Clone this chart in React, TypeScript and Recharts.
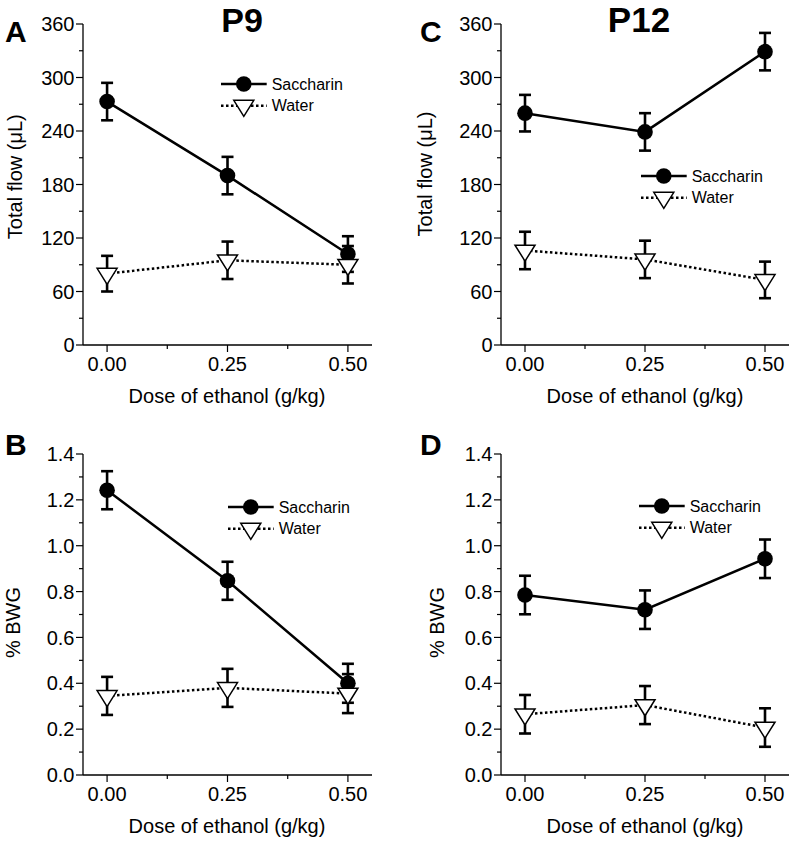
import React from 'react';
import { LineChart, Line, XAxis, YAxis, ErrorBar, Legend } from 'recharts';

const FONT = '"Liberation Sans", Arial, Helvetica, sans-serif';

// x axis: dose of ethanol (g/kg)
const doses = [0, 0.25, 0.5];
const doseTicks = [0, 0.25, 0.5];
const doseMinorTicks = [0.125, 0.375];

// y axis ticks
const flowTicks = [0, 60, 120, 180, 240, 300, 360];
const flowMinorTicks = [30, 90, 150, 210, 270, 330];
const bwgTicks = [0, 0.2, 0.4, 0.6, 0.8, 1.0, 1.2, 1.4];
const bwgMinorTicks = [0.1, 0.3, 0.5, 0.7, 0.9, 1.1, 1.3];

const seriesNames = ['Saccharin', 'Water'];

// A: P9 total flow (uL)
const p9FlowSaccharin = [273, 190, 102];
const p9FlowSaccharinErr = [21, 21, 20];
const p9FlowWater = [80, 95, 90];
const p9FlowWaterErr = [20, 21, 21];

// C: P12 total flow (uL)
const p12FlowSaccharin = [260, 239, 329];
const p12FlowSaccharinErr = [20.5, 21, 21];
const p12FlowWater = [106, 96, 73];
const p12FlowWaterErr = [21, 21, 20.5];

// B: P9 % BWG
const p9BwgSaccharin = [1.242, 0.847, 0.4];
const p9BwgSaccharinErr = [0.083, 0.083, 0.085];
const p9BwgWater = [0.345, 0.38, 0.355];
const p9BwgWaterErr = [0.083, 0.083, 0.085];

// D: P12 % BWG
const p12BwgSaccharin = [0.785, 0.721, 0.943];
const p12BwgSaccharinErr = [0.084, 0.084, 0.084];
const p12BwgWater = [0.265, 0.305, 0.207];
const p12BwgWaterErr = [0.084, 0.083, 0.084];

function buildData(sac: number[], sacErr: number[], wat: number[], watErr: number[]) {
  return doses.map((d, i) => ({
    dose: d,
    saccharin: sac[i],
    saccharinErr: sacErr[i],
    water: wat[i],
    waterErr: watErr[i],
  }));
}

function isIn(v: number, list: number[]) {
  return list.some((t) => Math.abs(t - v) < 1e-6);
}

const YTick = (props: any) => {
  const { x, y, payload, majors, fmt } = props;
  const major = isIn(payload.value, majors);
  return (
    <g>
      <line x1={x} x2={x - (major ? 7 : 4)} y1={y} y2={y} stroke="#000" strokeWidth={1.2} />
      {major && (
        <text x={x - 8.5} y={y} dy="0.36em" textAnchor="end" fontSize={20} fontFamily={FONT} fill="#000">
          {fmt(payload.value)}
        </text>
      )}
    </g>
  );
};

const XTick = (props: any) => {
  const { x, y, payload } = props;
  const major = isIn(payload.value, doseTicks);
  return (
    <g>
      <line x1={x} x2={x} y1={y} y2={y + (major ? 7 : 4)} stroke="#000" strokeWidth={1.2} />
      {major && (
        <text x={x} y={y + 25.5} textAnchor="middle" fontSize={20} fontFamily={FONT} fill="#000">
          {payload.value.toFixed(2)}
        </text>
      )}
    </g>
  );
};

const circleDot = (p: any) => <circle key={`c${p.index}`} cx={p.cx} cy={p.cy} r={7.8} fill="#000" />;

function trianglePath(cx: number, cy: number) {
  const h = 16;
  const hw = 10;
  return `M${cx - hw},${cy - h / 3} L${cx + hw},${cy - h / 3} L${cx},${cy + (2 * h) / 3} Z`;
}

const triangleDot = (p: any) => (
  <path key={`t${p.index}`} d={trianglePath(p.cx, p.cy)} fill="#fff" stroke="#000" strokeWidth={1.5} />
);

const LegendBox = () => (
  <svg width={150} height={46} style={{ display: 'block', overflow: 'visible' }}>
    <line x1={6} x2={51.7} y1={12} y2={12} stroke="#000" strokeWidth={2.5} />
    <circle cx={28.8} cy={12} r={7.8} fill="#000" />
    <text x={56.7} y={12} dy="0.36em" fontSize={16} fontFamily={FONT} fill="#000">
      {seriesNames[0]}
    </text>
    <line x1={6} x2={51.7} y1={33.7} y2={33.7} stroke="#000" strokeWidth={2.5} strokeDasharray="2.5 2.5" />
    <path d={trianglePath(28.8, 33.7)} fill="#fff" stroke="#000" strokeWidth={1.5} />
    <text x={56.7} y={33.7} dy="0.36em" fontSize={16} fontFamily={FONT} fill="#000">
      {seriesNames[1]}
    </text>
  </svg>
);

interface PanelProps {
  left: number;
  top: number;
  data: any[];
  yDomain: [number, number];
  yTicks: number[];
  yMinor: number[];
  yFmt: (v: number) => string;
  yWidth: number;
  marginRight: number;
  legendPos: { left: number; top: number };
}

function Panel({ left, top, data, yDomain, yTicks, yMinor, yFmt, yWidth, marginRight, legendPos }: PanelProps) {
  const allY = [...yTicks, ...yMinor].sort((a, b) => a - b);
  const allX = [...doseTicks, ...doseMinorTicks].sort((a, b) => a - b);
  return (
    <div style={{ position: 'absolute', left, top }}>
      <LineChart width={400} height={415} data={data} margin={{ top: 24, right: marginRight, left: 0, bottom: 0 }}>
        <XAxis
          dataKey="dose"
          type="number"
          domain={[-0.05, 0.55]}
          ticks={allX}
          interval={0}
          allowDataOverflow
          height={70}
          tickSize={0}
          tickMargin={0}
          tickLine={false}
          axisLine={{ stroke: '#000', strokeWidth: 1.3 }}
          tick={(p: any) => <XTick {...p} />}
        />
        <YAxis
          type="number"
          domain={yDomain}
          ticks={allY}
          interval={0}
          allowDataOverflow
          width={yWidth}
          tickSize={0}
          tickMargin={0}
          tickLine={false}
          axisLine={{ stroke: '#000', strokeWidth: 1.3 }}
          tick={(p: any) => <YTick {...p} majors={yTicks} fmt={yFmt} />}
        />
        <Legend
          layout="horizontal"
          verticalAlign="middle"
          align="center"
          content={() => <LegendBox />}
          wrapperStyle={{ left: legendPos.left - 6, top: legendPos.top - 12, width: 150, height: 46 }}
        />
        <Line
          dataKey="saccharin"
          name={seriesNames[0]}
          stroke="#000"
          strokeWidth={2.5}
          dot={circleDot}
          activeDot={false}
          isAnimationActive={false}
        >
          <ErrorBar dataKey="saccharinErr" direction="y" width={6} stroke="#000" strokeWidth={2.6} />
        </Line>
        <Line
          dataKey="water"
          name={seriesNames[1]}
          stroke="#000"
          strokeWidth={2.5}
          strokeDasharray="2.5 2.5"
          dot={triangleDot}
          activeDot={false}
          isAnimationActive={false}
        >
          <ErrorBar dataKey="waterErr" direction="y" width={6} stroke="#000" strokeWidth={2.6} />
        </Line>
      </LineChart>
    </div>
  );
}

const flowFmt = (v: number) => String(Math.round(v));
const bwgFmt = (v: number) => v.toFixed(1);

export default function App() {
  const textStyle = { fontFamily: FONT, fill: '#000' };
  return (
    <div style={{ position: 'absolute', left: 0, top: 0, width: 800, height: 843, overflow: 'hidden', background: '#fff' }}>
      <Panel
        left={0}
        top={0}
        data={buildData(p9FlowSaccharin, p9FlowSaccharinErr, p9FlowWater, p9FlowWaterErr)}
        yDomain={[0, 360]}
        yTicks={flowTicks}
        yMinor={flowMinorTicks}
        yFmt={flowFmt}
        yWidth={83}
        marginRight={28}
        legendPos={{ left: 221, top: 84.3 }}
      />
      <Panel
        left={400}
        top={0}
        data={buildData(p12FlowSaccharin, p12FlowSaccharinErr, p12FlowWater, p12FlowWaterErr)}
        yDomain={[0, 360]}
        yTicks={flowTicks}
        yMinor={flowMinorTicks}
        yFmt={flowFmt}
        yWidth={101}
        marginRight={11}
        legendPos={{ left: 240.7, top: 175.7 }}
      />
      <Panel
        left={0}
        top={430}
        data={buildData(p9BwgSaccharin, p9BwgSaccharinErr, p9BwgWater, p9BwgWaterErr)}
        yDomain={[0, 1.4]}
        yTicks={bwgTicks}
        yMinor={bwgMinorTicks}
        yFmt={bwgFmt}
        yWidth={83}
        marginRight={28}
        legendPos={{ left: 227.7, top: 77.3 }}
      />
      <Panel
        left={400}
        top={430}
        data={buildData(p12BwgSaccharin, p12BwgSaccharinErr, p12BwgWater, p12BwgWaterErr)}
        yDomain={[0, 1.4]}
        yTicks={bwgTicks}
        yMinor={bwgMinorTicks}
        yFmt={bwgFmt}
        yWidth={101}
        marginRight={11}
        legendPos={{ left: 239.3, top: 76 }}
      />
      <svg width={800} height={843} style={{ position: 'absolute', left: 0, top: 0, pointerEvents: 'none' }}>
        <g style={textStyle} fontWeight="bold" fontSize={30}>
          <text x={5} y={42}>A</text>
          <text x={420} y={42}>C</text>
          <text x={5} y={455}>B</text>
          <text x={420} y={455}>D</text>
        </g>
        <g style={textStyle} fontWeight="bold" textAnchor="middle">
          <text x={242} y={32} fontSize={34}>P9</text>
          <text x={639} y={32} fontSize={35}>P12</text>
        </g>
        <g style={textStyle} fontSize={20} textAnchor="middle">
          <text x={227} y={403}>Dose of ethanol (g/kg)</text>
          <text x={645} y={403}>Dose of ethanol (g/kg)</text>
          <text x={227} y={833}>Dose of ethanol (g/kg)</text>
          <text x={645} y={833}>Dose of ethanol (g/kg)</text>
          <text transform="translate(15,176.7) rotate(-90)" dominantBaseline="central">Total flow (μL)</text>
          <text transform="translate(424.7,174) rotate(-90)" dominantBaseline="central">Total flow (μL)</text>
          <text transform="translate(13,622.5) rotate(-90)" dominantBaseline="central">% BWG</text>
          <text transform="translate(437,622.5) rotate(-90)" dominantBaseline="central">% BWG</text>
        </g>
      </svg>
    </div>
  );
}
